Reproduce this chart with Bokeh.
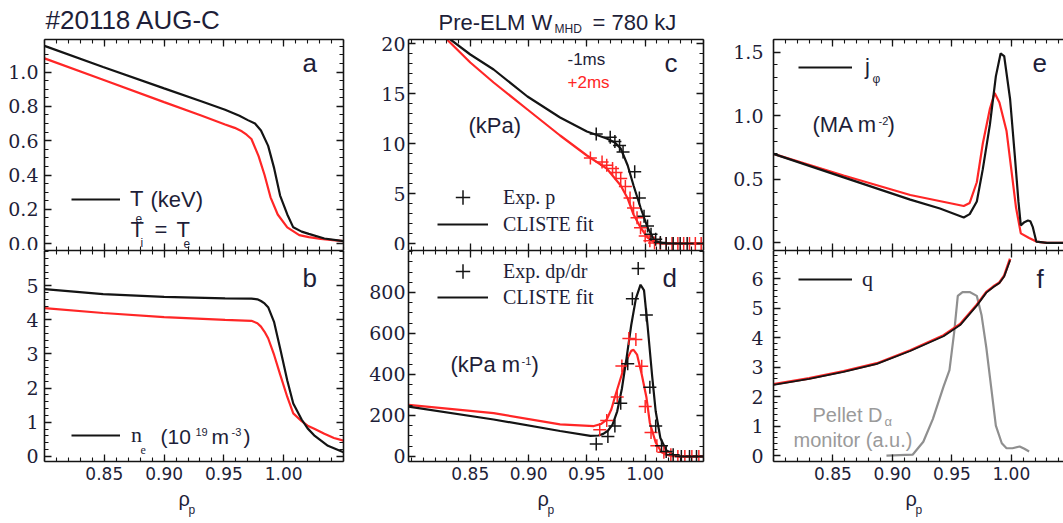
from bokeh.plotting import figure
from bokeh.models import (Range1d, LinearAxis, Label, FixedTicker, Legend,
                          LegendItem, PrintfTickFormatter, CustomJSTickFormatter)
from bokeh.layouts import row, column
from bokeh.embed import file_html
from bokeh.resources import INLINE

# ---------------- data ----------------
# panel a: temperature T_e (keV); -1ms black, +2ms red
te_m1_rho = [0.800, 0.849, 0.900, 0.931, 0.951, 0.963, 0.970, 0.976, 0.981, 0.987,
             0.992, 0.997, 1.003, 1.008, 1.015, 1.021, 1.034, 1.050]
te_m1 = [1.153, 1.03, 0.905, 0.83, 0.78, 0.745, 0.72, 0.70, 0.66, 0.57,
         0.44, 0.28, 0.17, 0.095, 0.07, 0.057, 0.03, 0.015]
te_p2_rho = [0.800, 0.849, 0.900, 0.931, 0.951, 0.959, 0.965, 0.969, 0.973, 0.979,
             0.984, 0.989, 0.995, 1.003, 1.013, 1.021, 1.031, 1.041, 1.050]
te_p2 = [1.08, 0.955, 0.825, 0.747, 0.695, 0.675, 0.655, 0.635, 0.61, 0.51,
         0.40, 0.27, 0.17, 0.095, 0.05, 0.038, 0.028, 0.02, 0.015]

# panel b: density n_e (1e19 m^-3)
ne_m1_rho = [0.800, 0.849, 0.900, 0.951, 0.973, 0.978, 0.981, 0.984, 0.987, 0.992,
             0.997, 1.003, 1.008, 1.015, 1.020, 1.026, 1.037, 1.050]
ne_m1 = [4.9, 4.75, 4.67, 4.63, 4.62, 4.6, 4.55, 4.48, 4.37, 3.93,
         3.17, 2.22, 1.55, 1.08, 0.82, 0.6, 0.31, 0.12]
ne_p2_rho = [0.800, 0.849, 0.900, 0.951, 0.973, 0.978, 0.981, 0.984, 0.987, 0.992,
             0.997, 1.003, 1.008, 1.015, 1.020, 1.026, 1.034, 1.042, 1.050]
ne_p2 = [4.34, 4.2, 4.08, 4.0, 3.97, 3.9, 3.8, 3.65, 3.46, 2.97,
         2.4, 1.74, 1.26, 1.03, 0.9, 0.8, 0.66, 0.54, 0.46]

# panel c: pressure (kPa), CLISTE fit and experimental points
pe_m1_rho = [0.833, 0.850, 0.870, 0.899, 0.927, 0.950, 0.967, 0.974, 0.979, 0.985,
             0.990, 0.996, 1.002, 1.008, 1.015, 1.030, 1.050]
pe_m1 = [20.4, 18.9, 17.4, 14.7, 12.6, 11.2, 10.5, 10.1, 9.5, 7.8,
         5.8, 3.6, 1.6, 0.3, 0.05, 0.0, 0.0]
pe_p2_rho = [0.830, 0.850, 0.870, 0.899, 0.927, 0.950, 0.967, 0.979, 0.985, 0.990,
             0.996, 1.002, 1.008, 1.015, 1.030, 1.050]
pe_p2 = [20.4, 18.1, 16.1, 13.4, 10.8, 8.8, 7.5, 5.8, 4.5, 2.9,
         1.6, 0.6, 0.1, 0.0, 0.0, 0.0]
pexp_m1_rho = [0.958, 0.970, 0.974, 0.978, 0.981, 0.991, 0.995, 0.999, 1.002, 1.005,
               1.009, 1.013, 1.018, 1.024, 1.030, 1.036]
pexp_m1 = [10.96, 10.63, 10.2, 9.8, 9.15, 7.18, 4.54, 2.73, 1.74, 0.92,
           0.43, 0.1, 0.0, 0.0, 0.0, 0.0]
pexp_p2_rho = [0.953, 0.963, 0.967, 0.972, 0.975, 0.979, 0.983, 0.987, 0.990, 0.993,
               0.996, 1.000, 1.004, 1.008, 1.013, 1.018, 1.023, 1.028, 1.033, 1.038,
               1.043, 1.048]
pexp_p2 = [8.55, 8.16, 7.83, 7.5, 7.1, 6.5, 5.7, 4.54, 3.55, 2.57,
           1.58, 0.76, 0.27, 0.05, 0.0, 0.0, 0.0, 0.0, 0.0, 0.0,
           0.0, 0.0]

# panel d: pressure gradient (kPa m^-1)
dp_m1_rho = [0.797, 0.870, 0.927, 0.953, 0.960, 0.964, 0.968, 0.972, 0.976, 0.980,
             0.984, 0.988, 0.992, 0.996, 0.999, 1.002, 1.006, 1.009, 1.013, 1.018,
             1.024, 1.030, 1.050]
dp_m1 = [243, 180, 124, 100, 102, 110, 125, 155, 220, 330,
         480, 640, 770, 838, 810, 640, 390, 220, 90, 30,
         8, 0, 0]
dp_p2_rho = [0.797, 0.870, 0.927, 0.956, 0.962, 0.967, 0.971, 0.974, 0.980, 0.985,
             0.988, 0.990, 0.993, 0.997, 1.001, 1.004, 1.009, 1.014, 1.020, 1.030,
             1.050]
dp_p2 = [251, 211, 156, 148, 158, 180, 230, 290, 401, 481,
         515, 520, 497, 401, 290, 163, 68, 20, 5, 0,
         0]
dpexp_m1_rho = [0.958, 0.968, 0.974, 0.979, 0.985, 0.989, 0.994, 1.001, 1.004, 1.009,
                1.014, 1.018, 1.024, 1.031, 1.038, 1.044]
dpexp_m1 = [60, 97, 148, 259, 452, 770, 917, 690, 338, 148,
            52, 24, 8, 0, 0, 0]
dpexp_p2_rho = [0.961, 0.967, 0.976, 0.980, 0.986, 0.992, 0.997, 1.000, 1.005, 1.010,
                1.016, 1.022, 1.028, 1.034, 1.040, 1.046]
dpexp_p2 = [130, 175, 290, 441, 576, 570, 440, 243, 116, 52,
            20, 8, 0, 0, 0, 0]

# panel e: current density j_phi (MA m^-2)
j_m1_rho = [0.800, 0.859, 0.915, 0.940, 0.960, 0.965, 0.971, 0.976, 0.982, 0.987,
            0.991, 0.994, 0.999, 1.003, 1.006, 1.008, 1.011, 1.014, 1.016, 1.018,
            1.021, 1.030, 1.044]
j_m1 = [0.70, 0.515, 0.34, 0.27, 0.20, 0.226, 0.326, 0.578, 0.93, 1.31,
        1.49, 1.47, 1.13, 0.68, 0.326, 0.138, 0.163, 0.176, 0.17, 0.126,
        0.01, 0.0, 0.0]
j_p2_rho = [0.800, 0.859, 0.915, 0.960, 0.965, 0.971, 0.976, 0.982, 0.986, 0.990,
            0.996, 1.000, 1.004, 1.008, 1.015, 1.021, 1.030, 1.044]
j_p2 = [0.70, 0.53, 0.377, 0.29, 0.314, 0.477, 0.78, 1.055, 1.18, 1.105,
        0.88, 0.578, 0.276, 0.075, 0.038, 0.01, 0.0, 0.0]

# panel f: safety factor q and pellet D-alpha monitor (a.u.)
q_rho = [0.800, 0.830, 0.859, 0.887, 0.915, 0.943, 0.957, 0.971, 0.979, 0.985,
         0.990, 0.994, 0.997, 0.999]
q_m1 = [2.4, 2.6, 2.84, 3.11, 3.55, 4.05, 4.43, 5.09, 5.53, 5.72,
        5.86, 6.08, 6.41, 6.63]
q_p2 = [2.42, 2.62, 2.86, 3.13, 3.57, 4.08, 4.46, 5.12, 5.55, 5.74,
        5.87, 6.10, 6.45, 6.68]
da_rho = [0.895, 0.917, 0.926, 0.934, 0.943, 0.948, 0.952, 0.955, 0.959, 0.965,
          0.971, 0.975, 0.979, 0.983, 0.987, 0.992, 0.996, 1.001, 1.007, 1.011,
          1.015]
da = [0.0, 0.03, 0.47, 1.24, 2.34, 2.9, 4.2, 5.42, 5.55, 5.55,
      5.42, 4.76, 3.66, 2.34, 1.02, 0.42, 0.25, 0.25, 0.31, 0.23,
      0.14]

# tick values
x_major = [0.85, 0.90, 0.95, 1.00]
x_minor = [round(0.80 + 0.01 * i, 2) for i in range(26)]
ya_major = [0.0, 0.2, 0.4, 0.6, 0.8, 1.0]
yb_major = [0, 1, 2, 3, 4, 5]
yc_major = [0, 5, 10, 15, 20]
yd_major = [0, 200, 400, 600, 800]
ye_major = [0.0, 0.5, 1.0, 1.5]
yf_major = [0, 1, 2, 3, 4, 5, 6]

# ---------------- style ----------------
BLACK = "#141414"
RED = "#ff2626"
GRAY = "#8f8f8f"
TXT = "#1e1e38"
GTXT = "#9a9a9a"
SANS = "Liberation Sans"
SERIF = "Liberation Serif"
TICKF = "DejaVu Serif"
XTICKF = "DejaVu Sans"
BLANK = CustomJSTickFormatter(code="return ''")


def mk(width, height, xr, yr, bl, br, bt, bb):
    p = figure(width=width, height=height, x_range=Range1d(*xr), y_range=Range1d(*yr),
               output_backend="svg", toolbar_location=None,
               x_axis_location=None, y_axis_location=None,
               min_border_left=bl, min_border_right=br,
               min_border_top=bt, min_border_bottom=bb)
    p.outline_line_color = None
    p.grid.visible = False
    p.background_fill_color = "white"
    p.border_fill_color = "white"
    return p


def axis(p, side, ticks, minor, labels=False, fmt=None, font=None, size=None, standoff=4):
    ax = LinearAxis(ticker=FixedTicker(ticks=ticks, minor_ticks=minor),
                    axis_line_color=BLACK, axis_line_width=1.6,
                    major_tick_line_color=BLACK, minor_tick_line_color=BLACK,
                    major_tick_line_width=1.3, minor_tick_line_width=1.1,
                    major_tick_in=7, major_tick_out=0, minor_tick_in=4, minor_tick_out=0)
    if labels:
        ax.formatter = PrintfTickFormatter(format=fmt)
        ax.major_label_text_font = font
        ax.major_label_text_font_size = f"{size}px"
        ax.major_label_text_color = TXT
        ax.major_label_standoff = standoff
    else:
        ax.formatter = BLANK
        ax.major_label_standoff = 0
    p.add_layout(ax, side)


def put(p, fr, X, Y, text, size, font=SANS, color=TXT, align="left"):
    # X: page x of the text start; Y: page y of its baseline; fr: frame (left, bottom) on the page
    ymid = Y - 0.35 * size
    p.add_layout(Label(x=X - fr[0], y=fr[1] - ymid, x_units="screen", y_units="screen",
                       text=text, text_font=font, text_font_size=f"{size}px",
                       text_color=color, text_align=align, text_baseline="middle"))


def legend(p, items, loc, gw, gh, standoff, font, size):
    lg = Legend(items=items, location=loc, orientation="vertical",
                glyph_width=gw, glyph_height=gh, label_height=gh, label_width=10,
                label_standoff=standoff, label_text_font=font,
                label_text_font_size=f"{size}px", label_text_color=TXT,
                padding=0, margin=0, spacing=0,
                border_line_color=None, background_fill_alpha=0)
    p.add_layout(lg)


# ---------------- figures ----------------
ya_minor = [round(0.05 * i, 2) for i in range(24)]
yb_minor = [round(0.2 * i, 1) for i in range(31)]
yc_minor = list(range(0, 21))
yd_minor = list(range(0, 1001, 50))
ye_minor = [round(0.1 * i, 1) for i in range(17)]
yf_minor = [round(0.2 * i, 1) for i in range(35)]

TOP_H, ROW1_H, ROW2_H, BOT_H = 36, 214, 236, 37
top = mk(1063, TOP_H, (0, 1), (0, 1), 0, 0, 0, 0)
bottom = mk(1063, BOT_H, (0, 1), (0, 1), 0, 0, 0, 0)

pa = mk(360, ROW1_H, (0.80, 1.05), (-0.04, 1.19), 44, 17, 3, 0)
pb = mk(360, ROW2_H, (0.80, 1.05), (-0.15, 6.03), 44, 17, 0, 25)
pc = mk(360, ROW1_H, (0.797, 1.050), (-0.7, 20.4), 48, 17, 3, 0)
pd = mk(360, ROW2_H, (0.797, 1.050), (-25, 1005), 48, 17, 0, 25)
pe = mk(343, ROW1_H, (0.80, 1.0439), (-0.06, 1.6), 53, 0, 3, 0)
pf = mk(343, ROW2_H, (0.80, 1.0439), (-0.2, 6.96), 53, 0, 0, 25)

ft = (0, TOP_H)
fbot = (0, 523)
fa, fb = (44, 250), (44, 461)
fc, fd = (408, 250), (408, 461)
fe, ff = (773, 250), (773, 461)

cols = [(pa, pb, 6, ya_major, ya_minor, "%.1f", yb_major, yb_minor, "%d", True),
        (pc, pd, 3, yc_major, yc_minor, "%d", yd_major, yd_minor, "%d", True),
        (pe, pf, 10, ye_major, ye_minor, "%.1f", yf_major, yf_minor, "%d", False)]
for ptop, pbot, so, t_maj, t_min, t_fmt, b_maj, b_min, b_fmt, has_right in cols:
    axis(ptop, "left", t_maj, t_min, True, t_fmt, TICKF, 19, so)
    axis(ptop, "above", x_major, x_minor)
    axis(ptop, "below", x_major, x_minor)
    axis(pbot, "left", b_maj, b_min, True, b_fmt, TICKF, 19, so)
    axis(pbot, "above", x_major, x_minor)
    axis(pbot, "below", x_major, x_minor, True, "%.2f", XTICKF, 17, 5)
    if has_right:
        axis(ptop, "right", t_maj, t_min)
        axis(pbot, "right", b_maj, b_min)

LW = 2.2
# panel a
pa.line(te_p2_rho, te_p2, line_color=RED, line_width=LW)
ra = pa.line(te_m1_rho, te_m1, line_color=BLACK, line_width=LW)
# panel b
pb.line(ne_p2_rho, ne_p2, line_color=RED, line_width=LW)
rb = pb.line(ne_m1_rho, ne_m1, line_color=BLACK, line_width=LW)
# panel c
pc.line(pe_p2_rho, pe_p2, line_color=RED, line_width=LW)
rc_line = pc.line(pe_m1_rho, pe_m1, line_color=BLACK, line_width=LW)
pc.scatter(pexp_p2_rho, pexp_p2, marker="cross", size=13, line_color=RED, line_width=1.5)
rc_pts = pc.scatter(pexp_m1_rho, pexp_m1, marker="cross", size=13, line_color=BLACK, line_width=1.5)
# panel d
pd.line(dp_p2_rho, dp_p2, line_color=RED, line_width=LW)
rd_line = pd.line(dp_m1_rho, dp_m1, line_color=BLACK, line_width=LW)
pd.scatter(dpexp_p2_rho, dpexp_p2, marker="cross", size=13, line_color=RED, line_width=1.5)
rd_pts = pd.scatter(dpexp_m1_rho, dpexp_m1, marker="cross", size=13, line_color=BLACK, line_width=1.5)
# panel e
pe.line(j_p2_rho, j_p2, line_color=RED, line_width=LW)
re_ = pe.line(j_m1_rho, j_m1, line_color=BLACK, line_width=LW)
# panel f
pf.line(da_rho, da, line_color=GRAY, line_width=LW)
pf.line(q_rho, q_p2, line_color=RED, line_width=2.6)
rf = pf.line(q_rho, q_m1, line_color=BLACK, line_width=1.8)

# ---------------- legends ----------------
legend(pa, [LegendItem(label="T", renderers=[ra])], (27, 38), 49, 26, 10, SANS, 22)
legend(pb, [LegendItem(label="n", renderers=[rb])], (27, 13), 49, 26, 11, SERIF, 22)
legend(pc, [LegendItem(label="Exp. p", renderers=[rc_pts])], (29, 35), 51, 36, 15, SERIF, 20)
legend(pc, [LegendItem(label="CLISTE fit", renderers=[rc_line])], (29, 13), 51, 26, 15, SERIF, 20)
legend(pd, [LegendItem(label="Exp. dp/dr", renderers=[rd_pts])], (29, 172), 51, 36, 15, SERIF, 20)
legend(pd, [LegendItem(label="CLISTE fit", renderers=[rd_line])], (29, 151), 51, 26, 15, SERIF, 20)
legend(pe, [LegendItem(label="j", renderers=[re_])], (25, 170), 54, 26, 13, SANS, 22)
legend(pf, [LegendItem(label="q", renderers=[rf])], (25, 169), 54, 26, 10, SERIF, 22)

# ---------------- texts ----------------
# titles (top strip)
put(top, ft, 45, 29, "#20118 AUG-C", 26)
put(top, ft, 438, 30, "Pre-ELM W", 22)
put(top, ft, 554, 33, "MHD", 12)
put(top, ft, 592, 30, "= 780 kJ", 22)
# panel letters
put(pa, fa, 302, 72, "a", 26)
put(pb, fb, 302, 287, "b", 26)
put(pc, fc, 664, 72, "c", 26)
put(pd, fd, 662, 287, "d", 26)
put(pe, fe, 1032, 72, "e", 26)
put(pf, ff, 1036, 288, "f", 26)
# panel a legend text
put(pa, fa, 135, 222, "e", 12)
put(pa, fa, 150, 207, "(keV)", 22)
put(pa, fa, 130, 237, "T", 22)
put(pa, fa, 140, 247, "i", 12)
put(pa, fa, 154, 237, "=", 22)
put(pa, fa, 176, 237, "T", 22)
put(pa, fa, 183, 247, "e", 12)
# panel b legend text
put(pb, fb, 140, 454, "e", 12, font=SERIF)
put(pb, fb, 160, 443, "(10", 21)
put(pb, fb, 195, 435, "19", 11)
put(pb, fb, 211, 443, "m", 21)
put(pb, fb, 231, 435, "-3", 11)
put(pb, fb, 243, 443, ")", 21)
# panel c texts
put(pc, fc, 567, 65, "-1ms", 17)
put(pc, fc, 567, 88, "+2ms", 17, color=RED)
put(pc, fc, 468, 133, "(kPa)", 22)
# panel d texts
put(pd, fd, 450, 372, "(kPa m", 22)
put(pd, fd, 521, 364, "-1", 11)
put(pd, fd, 531, 372, ")", 22)
# panel e texts
put(pe, fe, 872, 83, "\u03c6", 12)
put(pe, fe, 812, 132, "(MA m", 22)
put(pe, fe, 878, 124, "-2", 11)
put(pe, fe, 887, 132, ")", 22)
# panel f texts
put(pf, ff, 812, 421, "Pellet D", 20, color=GTXT)
put(pf, ff, 884, 426, "\u03b1", 13, color=GTXT)
put(pf, ff, 793, 446, "monitor (a.u.)", 20, color=GTXT)
# x axis titles rho_p (bottom strip)
for x0 in (178, 537, 905):
    put(bottom, fbot, x0, 505, "\u03c1", 20)
    put(bottom, fbot, x0 + 10, 514, "p", 12)

layout = column(top, row(column(pa, pb), column(pc, pd), column(pe, pf)), bottom)
open("out.html", "w").write(file_html(layout, INLINE))
